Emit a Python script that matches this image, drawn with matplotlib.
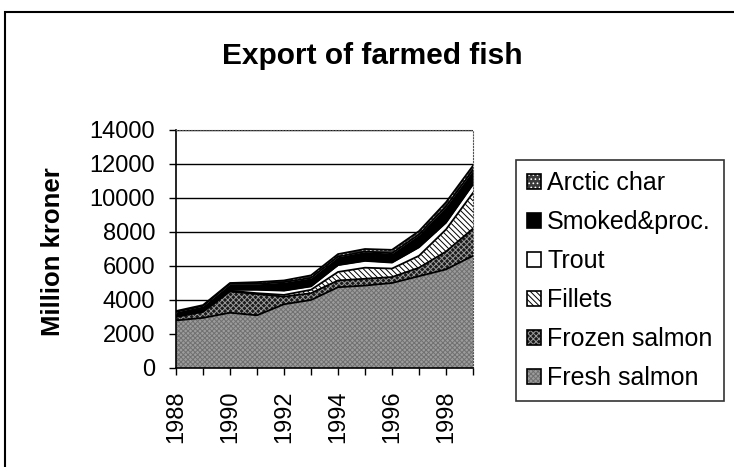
import matplotlib
matplotlib.use('Agg')
import numpy as np
import matplotlib.pyplot as plt
from matplotlib.patches import Patch, Rectangle

plt.rcParams['font.family'] = ['Liberation Sans', 'DejaVu Sans']
plt.rcParams['hatch.linewidth'] = 0.7

## Data (million kroner)
years = list(range(1988, 2000))
fresh_salmon  = [2800, 2950, 3250, 3100, 3750, 4000, 4750, 4850, 5000, 5400, 5800, 6600]
frozen_salmon = [200, 350, 1250, 1250, 450, 400, 400, 400, 350, 500, 1050, 1600]
fillets       = [50, 50, 50, 50, 100, 200, 500, 650, 500, 700, 1300, 2100]
trout         = [50, 50, 50, 200, 250, 200, 400, 400, 350, 500, 400, 500]
smoked_proc   = [200, 250, 350, 350, 500, 500, 500, 550, 550, 750, 950, 850]
arctic_char   = [50, 50, 50, 100, 100, 150, 150, 150, 200, 200, 250, 250]

names = ['Fresh salmon', 'Frozen salmon', 'Fillets', 'Trout', 'Smoked&proc.', 'Arctic char']
values = [fresh_salmon, frozen_salmon, fillets, trout, smoked_proc, arctic_char]
# facecolour, hatch, hatch colour
styles = [('#9c9c9c', 'xxxxxxx', '#707070'),
          ('#1a1a1a', 'xxxxxx', '#9a9a9a'),
          ('white', '\\\\\\\\\\\\', 'black'),
          ('white', None, 'white'),
          ('black', None, 'black'),
          ('#3a3a3a', '....', 'white')]

fig = plt.figure(figsize=(7.34, 4.67), dpi=100)
ax = fig.add_axes([176/734, 1-368/467, (473-176)/734, (368-130)/467])

cum = np.cumsum(np.array(values), axis=0)
lower = np.zeros(len(years))
for i in range(len(names)):
    face, hatch, hcol = styles[i]
    ax.fill_between(years, lower, cum[i], facecolor=face, hatch=hatch,
                    edgecolor=hcol, linewidth=0, zorder=2)
    ax.plot(years, cum[i], color='black', lw=1.3, zorder=3)
    lower = cum[i]

ax.set_xlim(1988, 1999)
ax.set_ylim(0, 14000)
ax.set_yticks(range(0, 14001, 2000))
ax.set_yticklabels([str(v) for v in range(0, 14001, 2000)], fontsize=17)
ax.set_xticks(years)
ax.set_xticklabels([str(y) if y % 2 == 0 else '' for y in years],
                   rotation=90, fontsize=17)
ax.tick_params(axis='y', direction='out', length=5, width=1, pad=10)
ax.tick_params(axis='x', direction='out', length=5, width=1, pad=11)
ax.yaxis.grid(True, color='black', lw=1)
ax.set_axisbelow(True)

for s in ['top', 'right']:
    ax.spines[s].set_linestyle(':')
    ax.spines[s].set_color('#555555')
for s in ['left', 'bottom']:
    ax.spines[s].set_color('black')
    ax.spines[s].set_linewidth(1.2)

fig.text(0.507, 1-64/467, 'Export of farmed fish', fontsize=21.5,
         fontweight='bold', ha='center', va='baseline')
fig.text(53/734, 1-251.5/467, 'Million kroner', fontsize=18.5,
         fontweight='bold', rotation=90, ha='center', va='center')

# legend, top series first
handles = []
for i in reversed(range(len(names))):
    face, hatch, hcol = styles[i]
    handles.append((Patch(facecolor=face, hatch=hatch, edgecolor=hcol, lw=0),
                    Patch(facecolor='none', edgecolor='black', lw=1.2)))
leg = fig.legend(handles, list(reversed(names)), loc='upper left',
                 bbox_to_anchor=(516/734, 1-160/467), fontsize=18,
                 frameon=True, fancybox=False, shadow=False,
                 handlelength=0.55, handleheight=0.55, handletextpad=0.25,
                 labelspacing=0.6, borderpad=0.45, borderaxespad=0)
leg.get_frame().set_edgecolor('black')
leg.get_frame().set_linewidth(1.2)

# chart area border
fig.patches.append(Rectangle((5/734, -0.05), 1.2, 1.05-12/467, transform=fig.transFigure,
                             fill=False, edgecolor='black', lw=1.5))

fig.savefig('out.png', dpi=100)
